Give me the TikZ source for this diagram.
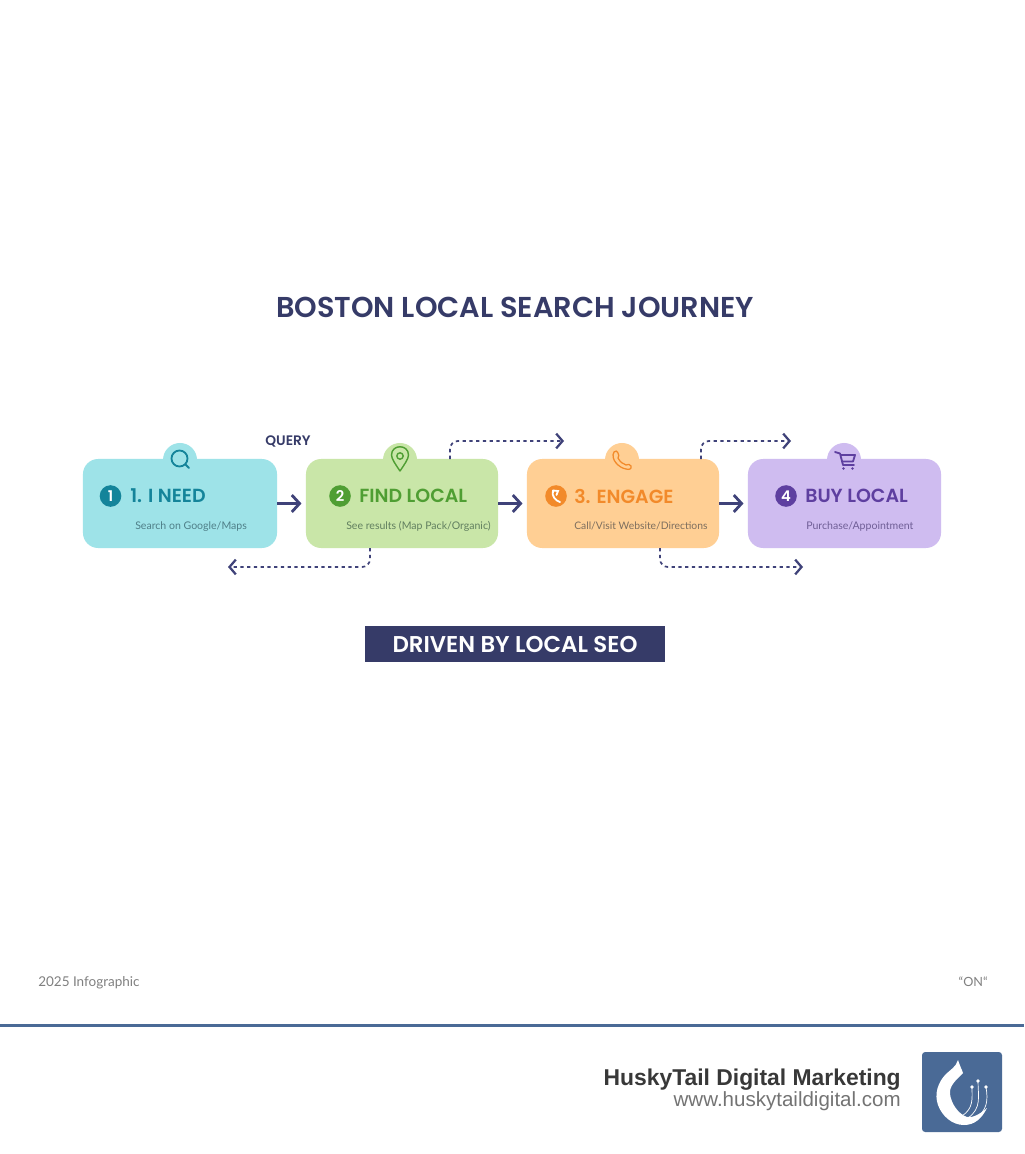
\documentclass[tikz,border=0pt]{standalone}
\usepackage{fontspec}
\usetikzlibrary{arrows.meta}
\setmainfont[BoldFont={Poppins SemiBold}]{Poppins}
\newfontfamily\subfont{Lato}
\newfontfamily\footfont{Liberation Sans}
\newcommand{\fsize}[1]{\fontsize{#1pt}{#1pt}\selectfont}
\definecolor{navy}{HTML}{363B68}
\definecolor{arrowblue}{HTML}{3F4279}
\definecolor{steel}{HTML}{4A6A96}
\definecolor{tealfill}{HTML}{9EE3E8}
\definecolor{tealtext}{HTML}{14849A}
\definecolor{tealsub}{HTML}{4F7F88}
\definecolor{greenfill}{HTML}{C9E6A8}
\definecolor{greentext}{HTML}{4F9E33}
\definecolor{greensub}{HTML}{617F5F}
\definecolor{orangefill}{HTML}{FFCF94}
\definecolor{orangetext}{HTML}{F28A2A}
\definecolor{orangesub}{HTML}{7D6E5E}
\definecolor{purplefill}{HTML}{CFBCF0}
\definecolor{purpletext}{HTML}{5E3FA0}
\definecolor{purplesub}{HTML}{6F5E96}
\tikzset{
  cardbox/.style={draw=none, rounded corners=0.38cm, minimum width=#1, minimum height=2.225cm, inner sep=0pt},
  bump/.style={circle, draw=none, minimum size=0.85cm, inner sep=0pt},
  badge/.style={circle, draw=none, minimum size=0.54cm, inner sep=0pt, text=white, font=\fsize{10.5}\bfseries},
  headtext/.style={anchor=west, inner sep=0pt, font=\fsize{13.5}\bfseries},
  subtext/.style={anchor=base west, inner sep=0pt, font=\subfont\fsize{7.5}},
  flowarrow/.style={draw=arrowblue, line width=2pt, -{Straight Barb[length=5.5pt,width=12pt,line width=2pt]}, shorten >=3pt},
  dashflow/.style={draw=arrowblue, line width=1.2pt, dash pattern=on 2.4pt off 2.4pt, rounded corners=0.2cm, -{Straight Barb[length=4.5pt,width=10.5pt,line width=1.6pt]}},
  iconline/.style={line width=1.3pt, line cap=round, line join=round}
}
\begin{document}
\begin{tikzpicture}[x=0.025cm, y=-0.025cm]
  \useasboundingbox[fill=white] (0,0) rectangle (1024,1154);
  % title
  \node[inner sep=0pt, text=navy, font=\fsize{20.45}\bfseries] (title) at (515,307) {BOSTON LOCAL SEARCH JOURNEY};
  \node[inner sep=0pt, text=navy, font=\fsize{9.8}\bfseries] (query) at (288,441) {QUERY};
  % bumps behind the cards
  \node[bump, fill=tealfill] (needbump) at (180,460) {};
  \node[bump, fill=greenfill] (findbump) at (400,460) {};
  \node[bump, fill=orangefill] (engagebump) at (622,460) {};
  \node[bump, fill=purplefill] (buybump) at (844,460) {};
  % cards
  \node[cardbox=4.85cm, fill=tealfill] (need) at (180,503.5) {};
  \node[cardbox=4.8cm, fill=greenfill] (find) at (402,503.5) {};
  \node[cardbox=4.8cm, fill=orangefill] (engage) at (623,503.5) {};
  \node[cardbox=4.825cm, fill=purplefill] (buy) at (844.5,503.5) {};
  % badges
  \node[badge, fill=tealtext] (needbadge) at (110.5,496) {1};
  \node[badge, fill=greentext] (findbadge) at (340,496) {2};
  \node[badge, fill=orangetext] (engagebadge) at (556,496) {};
  \node[badge, fill=purpletext] (buybadge) at (786,496) {4};
  % card texts
  \node[headtext, text=tealtext] (needhead) at (130,496) {1. I NEED};
  \node[headtext, text=greentext] (findhead) at (359,496) {FIND LOCAL};
  \node[headtext, text=orangetext] (engagehead) at (574,496) {3. ENGAGE};
  \node[headtext, text=purpletext] (buyhead) at (805,496) {BUY LOCAL};
  \node[subtext, text=tealsub] (needsub) at (135,529.5) {Search on Google/Maps};
  \node[subtext, text=greensub] (findsub) at (346,529.5) {See results (Map Pack/Organic)};
  \node[subtext, text=orangesub, font=\subfont\fsize{7.35}] (engagesub) at (574,529.5) {Call/Visit Website/Directions};
  \node[subtext, text=purplesub] (buysub) at (806,529.5) {Purchase/Appointment};
  % arrows between the cards
  \draw[flowarrow] (need.east) -- (find.west);
  \draw[flowarrow] (find.east) -- (engage.west);
  \draw[flowarrow] (engage.east) -- (buy.west);
  % dotted side paths
  \coordinate (findtop) at (450,459);
  \coordinate (findtopend) at (564,441);
  \coordinate (engagetop) at (701,459);
  \coordinate (engagetopend) at (791,441);
  \coordinate (findbottom) at (370,548);
  \coordinate (findbottomend) at (228,567);
  \coordinate (engagebottom) at (660,548);
  \coordinate (engagebottomend) at (803,567);
  \draw[dashflow] (findtop) |- (findtopend);
  \draw[dashflow] (engagetop) |- (engagetopend);
  \draw[dashflow] (findbottom) |- (findbottomend);
  \draw[dashflow] (engagebottom) |- (engagebottomend);
  % icons
  \draw[iconline, draw=tealtext] (179.5,458.5) circle (8);
  \draw[iconline, draw=tealtext] (185.5,464.5) -- (189,468);
  \draw[iconline, draw=greentext, line width=1pt] (400,471) .. controls (396,465) and (391.5,459) .. (391.5,455) .. controls (391.5,444) and (408.5,444) .. (408.5,455) .. controls (408.5,459) and (404,465) .. (400,471) -- cycle;
  \draw[iconline, draw=greentext, line width=1pt] (400,456) circle (3.2);
  \draw[iconline, draw=orangetext, line width=0.9pt] (614,452) .. controls (616,450) and (617,451) .. (618,453) .. controls (619,455) and (619,456) .. (618,458) .. controls (620,462) and (623,464) .. (626,465) .. controls (628,463) and (630,465) .. (631,466) .. controls (632,469) and (629,470) .. (626,469) .. controls (619,468) and (610,459) .. (614,452) -- cycle;
  \draw[iconline, draw=purpletext] (835,452) -- (840,453.5) -- (843,465) -- (854,465);
  \draw[iconline, draw=purpletext] (841,455) -- (855,455) -- (853,461.5) -- (842.5,461.5);
  \fill[purpletext] (843.5,468.5) circle (1.4) (852.5,468.5) circle (1.4);
  \draw[line width=1.3pt, draw=white, line cap=round] (553,490.5) .. controls (551,496) and (556,501) .. (560,502);
  \draw[line width=1.3pt, draw=white, line cap=round] (553,490.5) -- (558,491) -- (556.5,495);
  % banner
  \node[fill=navy, minimum width=7.5cm, minimum height=0.9cm, inner sep=0pt, text=white, font=\fsize{16.25}\bfseries] (banner) at (515,644) {DRIVEN BY LOCAL SEO};
  % footer
  \node[inner sep=0pt, anchor=west, text=black!50, font=\subfont\fsize{9.6}] (year) at (38,983) {2025 Infographic};
  \node[inner sep=0pt, anchor=east, text=black!50, font=\subfont\fsize{9}] (on) at (988,982) {“ON“};
  \fill[steel] (0,1024) rectangle (1024,1027);
  \node[inner sep=0pt, anchor=east, text=black!78, font=\footfont\fsize{16.27}\bfseries] (brand) at (901,1079.5) {HuskyTail Digital Marketing};
  \node[inner sep=0pt, anchor=east, text=black!55, font=\footfont\fsize{14.6}] (site) at (901,1101) {www.huskytaildigital.com};
  % logo
  \node[fill=steel, rounded corners=0.08cm, minimum size=2cm, inner sep=0pt] (logo) at (962,1092) {};
  \fill[white] (958,1060) .. controls (960,1066) and (962,1070) .. (963,1073) .. controls (956,1080) and (949,1086) .. (950,1094) .. controls (951,1103) and (958,1114) .. (967,1117) .. controls (973,1118) and (980,1114) .. (987,1108) .. controls (982,1118) and (975,1125) .. (964,1125) .. controls (952,1125) and (942,1116) .. (938,1105) .. controls (934,1094) and (938,1082) .. (946,1074) .. controls (950,1070) and (956,1067) .. (958,1060) -- cycle;
  \foreach \dotx/\doty in {978/1081, 972/1087, 986/1087}
    \fill[white] (\dotx,\doty) circle (1.8);
  \draw[white, line width=0.5pt] (978,1081) .. controls (978,1096) and (982,1108) .. (968,1118)
    (972,1087) .. controls (972,1098) and (974,1108) .. (962,1116)
    (986,1087) .. controls (988,1100) and (988,1110) .. (974,1120);
\end{tikzpicture}
\end{document}
